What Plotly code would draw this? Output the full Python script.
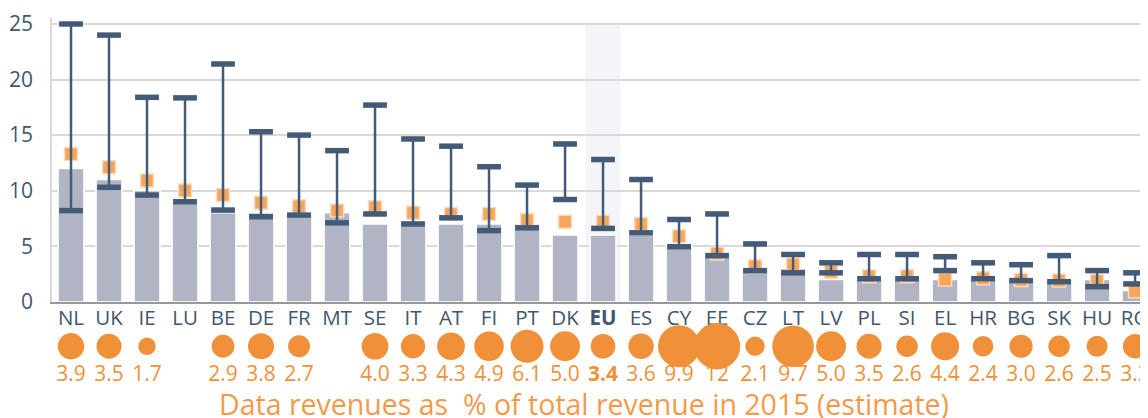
import plotly.graph_objects as go

countries = ["NL","UK","IE","LU","BE","DE","FR","MT","SE","IT","AT","FI","PT","DK","EU",
             "ES","CY","EE","CZ","LT","LV","PL","SI","EL","HR","BG","SK","HU","RO"]
bar_values = [12,11,10,9,8,8,8,8,7,7,7,7,7,6,6,6,5,4,3,3,2,2,2,2,2,2,2,2,1]
square_values = [13.3,12.1,10.9,10.0,9.6,8.9,8.6,8.2,8.5,8.0,7.9,7.9,7.35,7.2,7.2,7.0,5.9,4.35,
                 3.2,3.35,2.7,2.3,2.3,2.0,2.1,1.95,1.9,1.86,0.95]
range_low = [8.2,10.3,9.6,9.0,8.25,7.65,7.8,7.1,7.9,7.0,7.55,6.4,6.65,9.2,6.6,6.2,4.95,4.15,
             2.8,2.6,2.6,2.07,2.07,2.8,2.07,1.9,1.8,1.35,1.6]
range_high = [25.0,24.0,18.4,18.35,21.4,15.3,15.0,13.6,17.7,14.65,14.0,12.15,10.5,14.2,12.8,11.0,
              7.4,7.9,5.2,4.25,3.5,4.25,4.25,4.05,3.5,3.33,4.15,2.8,2.6]
data_share = [3.9,3.5,1.7,None,2.9,3.8,2.7,None,4.0,3.3,4.3,4.9,6.1,5.0,3.4,3.6,9.9,12,2.1,9.7,
              5.0,3.5,2.6,4.4,2.4,3.0,2.6,2.5,3.3]
y_ticks = [0, 5, 10, 15, 20, 25]
highlight = "EU"

FONT = "Open Sans"
NAVY = "#445b78"
TXT = "#41576f"
ORANGE = "#f0913a"

# page has an 8px body margin: figure is 1140x410 so it fits the 1148x418 window
W, H = 1140, 410

xs = list(range(len(countries)))
ticktext = [f"<b>{c}</b>" if c == highlight else c for c in countries]
hi_idx = countries.index(highlight)

fig = go.Figure()

fig.add_trace(go.Bar(
    x=xs, y=bar_values, width=0.68,
    marker=dict(color="#b1b4c4", line=dict(color="white", width=1.5)),
    hoverinfo="skip", showlegend=False))

fig.add_trace(go.Scatter(
    x=xs, y=square_values, mode="markers",
    marker=dict(symbol="square", size=13, color="#f5a65b",
                line=dict(color="#fcdcc0", width=1.5)),
    hoverinfo="skip", showlegend=False, cliponaxis=False))

fig.add_trace(go.Scatter(
    x=xs, y=range_low, mode="markers", marker=dict(opacity=0),
    error_y=dict(type="data", symmetric=False,
                 array=[h - l for h, l in zip(range_high, range_low)],
                 arrayminus=[0] * len(xs), width=0, thickness=2.5, color=NAVY),
    hoverinfo="skip", showlegend=False, cliponaxis=False))

fig.add_trace(go.Scatter(
    x=xs + xs, y=range_low + range_high, mode="markers",
    marker=dict(symbol="line-ew", size=17, color=NAVY, line=dict(color=NAVY, width=5.5)),
    hoverinfo="skip", showlegend=False, cliponaxis=False))

bx = [i for i, v in zip(xs, data_share) if v is not None]
bv = [v for v in data_share if v is not None]
labels = []
for c, v in zip(countries, data_share):
    if v is None:
        continue
    s = str(v) if v >= 10 else f"{v:.1f}"
    labels.append(f"<b>{s}</b>" if c == highlight else s)

fig.add_trace(go.Scatter(
    x=bx, y=[0.70] * len(bx), mode="markers", xaxis="x", yaxis="y2",
    marker=dict(size=bv, sizemode="area", sizeref=0.0112, color=ORANGE,
                opacity=1, line=dict(width=0)),
    hoverinfo="skip", showlegend=False, cliponaxis=False))

fig.add_trace(go.Scatter(
    x=bx, y=[0.415] * len(bx), mode="text", text=labels, xaxis="x", yaxis="y2",
    textfont=dict(family=FONT, size=21, color=ORANGE),
    hoverinfo="skip", showlegend=False, cliponaxis=False))

fig.add_shape(type="rect", xref="x", yref="y", x0=hi_idx - 0.46, x1=hi_idx + 0.46,
              y0=0, y1=25.1, fillcolor="#f4f5f8", line=dict(width=0), layer="below")

fig.add_annotation(text="Data revenues as&nbsp; % of total revenue in 2015 (estimate)",
                   xref="paper", yref="paper", x=576 / W, y=14 / H, xanchor="center", yanchor="middle",
                   showarrow=False, font=dict(family=FONT, size=28.5, color="#f29a4a"))

fig.update_layout(
    width=W, height=H,
    margin=dict(l=0, r=0, t=0, b=0),
    paper_bgcolor="white", plot_bgcolor="white",
    font=dict(family=FONT, color=TXT),
    xaxis=dict(domain=[44 / W, 1], range=[-0.5, 28.34], tickmode="array", tickvals=xs,
               ticktext=ticktext, tickfont=dict(size=20.5, color=TXT, family=FONT),
               showgrid=False, zeroline=False, showline=True, linecolor="#999999", linewidth=2,
               layer="below traces", ticks="", anchor="y", automargin=False, fixedrange=True,
               ticklabeloverflow="allow", ticklabelstandoff=-3),
    yaxis=dict(domain=[(H - 293.7) / H, (H - 10.45) / H], range=[0, 25.5], tickmode="array",
               tickvals=y_ticks, tickfont=dict(size=21, color=TXT, family=FONT), showgrid=True,
               gridcolor="#d9d9d9", gridwidth=1.5, zeroline=False, showline=True,
               linecolor="#d9d9d9", linewidth=1.5, ticks="", ticklabelstandoff=13,
               ticklabeloverflow="allow", automargin=False, anchor="x", fixedrange=True),
    yaxis2=dict(domain=[0, 102.5 / H], range=[0, 1], visible=False, anchor="x", fixedrange=True),
)

fig.write_html("out.html")
